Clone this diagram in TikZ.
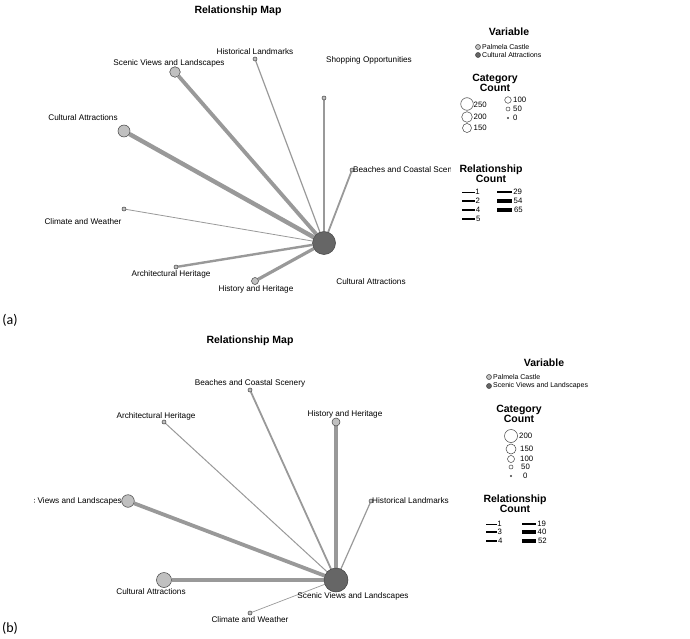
\documentclass[tikz,border=0pt]{standalone}
\usepackage{fontspec}
\setmainfont{Liberation Sans}
\newfontfamily\capfont{Carlito}
\usetikzlibrary{positioning, backgrounds}
\definecolor{castle}{HTML}{C0C0C0}
\definecolor{focusgray}{HTML}{666666}
\definecolor{linkgray}{HTML}{999999}
\tikzset {
    cat/.style={circle, draw=black!75, line width=0.5pt, inner sep=0pt, minimum size=#1},
    palmela/.style={cat=#1, fill=castle},
    focus/.style={cat=#1, fill=focusgray},
    link/.style={draw=linkgray, line width=#1},
    bar/.style={draw=black, line width=#1},
    lbl/.style={font=\fontsize{8.2}{9}\selectfont, inner sep=0pt},
    ttl/.style={font=\bfseries\fontsize{10.5}{10}\selectfont, inner sep=0pt, align=center},
    key/.style={font=\fontsize{7}{8}\selectfont, inner sep=0pt, anchor=west},
    num/.style={font=\fontsize{7.8}{8}\selectfont, inner sep=0pt, anchor=west},
    tag/.style={font=\capfont\fontsize{14}{15}\selectfont, inner sep=0pt}
}

\begin{document}
\begin{tikzpicture}[x=1pt, y=-1pt]
    \useasboundingbox (0,0) rectangle (690,639);

    % (a) relationship map for Cultural Attractions
    \node[ttl] (title-a) at (238,11) {Relationship Map};
    \node[focus=23pt] (ca) at (324,243) {};
    \node[palmela=10.6pt] (sv) at (175,72) {};
    \node[palmela=12pt] (cu) at (124,131) {};
    \node[palmela=4pt] (hl) at (255,59) {};
    \node[palmela=4pt] (so) at (324,98) {};
    \node[palmela=4pt] (bc) at (352,170) {};
    \node[palmela=4pt] (cw) at (124,209) {};
    \node[palmela=4pt] (ah) at (176,267) {};
    \node[palmela=7pt] (hh) at (255,281) {};

    \begin{scope}[on background layer]
        \path
         (ca) edge[link=4.4] (cu)
         (ca) edge[link=3.8] (sv)
         (ca) edge[link=3.2] (hh)
         (ca) edge[link=2.4] (ah)
         (ca) edge[link=1.8] (bc)
         (ca) edge[link=1.2] (hl)
         (ca) edge[link=1.2] (so)
         (ca) edge[link=0.8] (cw);
    \end{scope}

    \node[lbl] (sv-l) at (169,63) {Scenic Views and Landscapes};
    \node[lbl] (hl-l) at (255,52) {Historical Landmarks};
    \node[lbl] (so-l) at (369,60) {Shopping Opportunities};
    \node[lbl] (cu-l) at (83,118) {Cultural Attractions};
    \node[lbl] (cw-l) at (83,222) {Climate and Weather};
    \node[lbl] (ah-l) at (171,274) {Architectural Heritage};
    \node[lbl] (hh-l) at (256,289) {History and Heritage};
    \node[lbl] (ca-l) at (371,282) {Cultural Attractions};
    \begin{scope}
        \clip (0,0) rectangle (450,320);
        \node[lbl, anchor=west] (bc-l) at (353,170) {Beaches and Coastal Scenery};
    \end{scope}

    % legend (a)
    \node[ttl] (var-a) at (509,32) {Variable};
    \node[palmela=5pt] (ka1) at (478,47) {};
    \node[key] at (482,47) {Palmela Castle};
    \node[focus=5pt] (ka2) at (478,55) {};
    \node[key] at (482,55) {Cultural Attractions};
    \node[ttl] (cat-a) at (495,83) {Category\\Count};
    \node[cat=12.6pt] at (467,104) {};
    \node[num] at (473.5,105) {250};
    \node[cat=10.6pt] at (467,117) {};
    \node[num] at (473.5,117) {200};
    \node[cat=9pt] at (467,128) {};
    \node[num] at (473.5,128) {150};
    \node[cat=6.6pt] at (508,100) {};
    \node[num] at (513,100) {100};
    \node[cat=4pt] at (508,109) {};
    \node[num] at (513,109) {50};
    \node[cat=1.6pt] at (508,118) {};
    \node[num] at (513,118) {0};
    \node[ttl] (rel-a) at (491,174) {Relationship\\Count};
    \draw[bar=0.7] (462,192) -- (475,192) node[num] {1};
    \draw[bar=1.1] (462,201) -- (475,201) node[num] {2};
    \draw[bar=1.6] (462,210) -- (475,210) node[num] {4};
    \draw[bar=2.1] (462,219) -- (475,219) node[num] {5};
    \draw[bar=2.8] (497,192) -- (512,192) node[num] {29};
    \draw[bar=3.4] (497,201) -- (512,201) node[num] {54};
    \draw[bar=4] (497,210) -- (512,210) node[num] {65};
    \node[tag] (tag-a) at (10,320) {(a)};

    % (b) relationship map for Scenic Views and Landscapes
    \node[ttl] (title-b) at (250,341) {Relationship Map};
    \node[focus=24pt] (sc) at (336,580) {};
    \node[palmela=4pt] (bc2) at (250,390) {};
    \node[palmela=4pt] (ah2) at (164,422) {};
    \node[palmela=8pt] (hh2) at (336,422) {};
    \node[palmela=4pt] (hl2) at (371,501) {};
    \node[palmela=12.6pt] (sv2) at (128,501) {};
    \node[palmela=15pt] (cu2) at (164,580) {};
    \node[palmela=4pt] (cw2) at (250,613) {};

    \begin{scope}[on background layer]
        \path
         (sc) edge[link=4.4] (cu2)
         (sc) edge[link=3.8] (sv2)
         (sc) edge[link=3.2] (hh2)
         (sc) edge[link=1.8] (bc2)
         (sc) edge[link=1.2] (hl2)
         (sc) edge[link=1] (ah2)
         (sc) edge[link=0.7] (cw2);
    \end{scope}

    \node[lbl] (bc2-l) at (250,383) {Beaches and Coastal Scenery};
    \node[lbl] (ah2-l) at (156,416) {Architectural Heritage};
    \node[lbl] (hh2-l) at (345,414) {History and Heritage};
    \node[lbl, anchor=west] (hl2-l) at (372,501) {Historical Landmarks};
    \node[lbl] (cu2-l) at (151,592) {Cultural Attractions};
    \node[lbl] (cw2-l) at (250,620) {Climate and Weather};
    \node[lbl] (sc-l) at (353,596) {Scenic Views and Landscapes};
    \begin{scope}
        \clip (34,480) rectangle (200,520);
        \node[lbl, anchor=east] (sv2-l) at (122,501) {Scenic Views and Landscapes};
    \end{scope}

    % legend (b)
    \node[ttl] (var-b) at (544,363) {Variable};
    \node[palmela=5pt] (kb1) at (489,377) {};
    \node[key] at (493,377) {Palmela Castle};
    \node[focus=5pt] (kb2) at (489,386) {};
    \node[key] at (493,386) {Scenic Views and Landscapes};
    \node[ttl] (cat-b) at (519,414) {Category\\Count};
    \node[cat=13pt] at (511,436) {};
    \node[num] at (519,436) {200};
    \node[cat=10pt] at (511,449) {};
    \node[num] at (520,449) {150};
    \node[cat=7pt] at (511,459) {};
    \node[num] at (520,459) {100};
    \node[cat=4pt] at (511,467) {};
    \node[num] at (521,467) {50};
    \node[cat=1.6pt] at (511,476) {};
    \node[num] at (523,476) {0};
    \node[ttl] (rel-b) at (515,504) {Relationship\\Count};
    \draw[bar=0.7] (486,524) -- (497,524) node[num] {1};
    \draw[bar=1.4] (486,532) -- (497,532) node[num] {3};
    \draw[bar=2] (486,541) -- (497,541) node[num] {4};
    \draw[bar=2.8] (522,524) -- (536,524) node[num] {19};
    \draw[bar=3.4] (522,532) -- (536,532) node[num] {40};
    \draw[bar=4] (522,541) -- (536,541) node[num] {52};
    \node[tag] (tag-b) at (10,628) {(b)};
\end{tikzpicture}
\end{document}
